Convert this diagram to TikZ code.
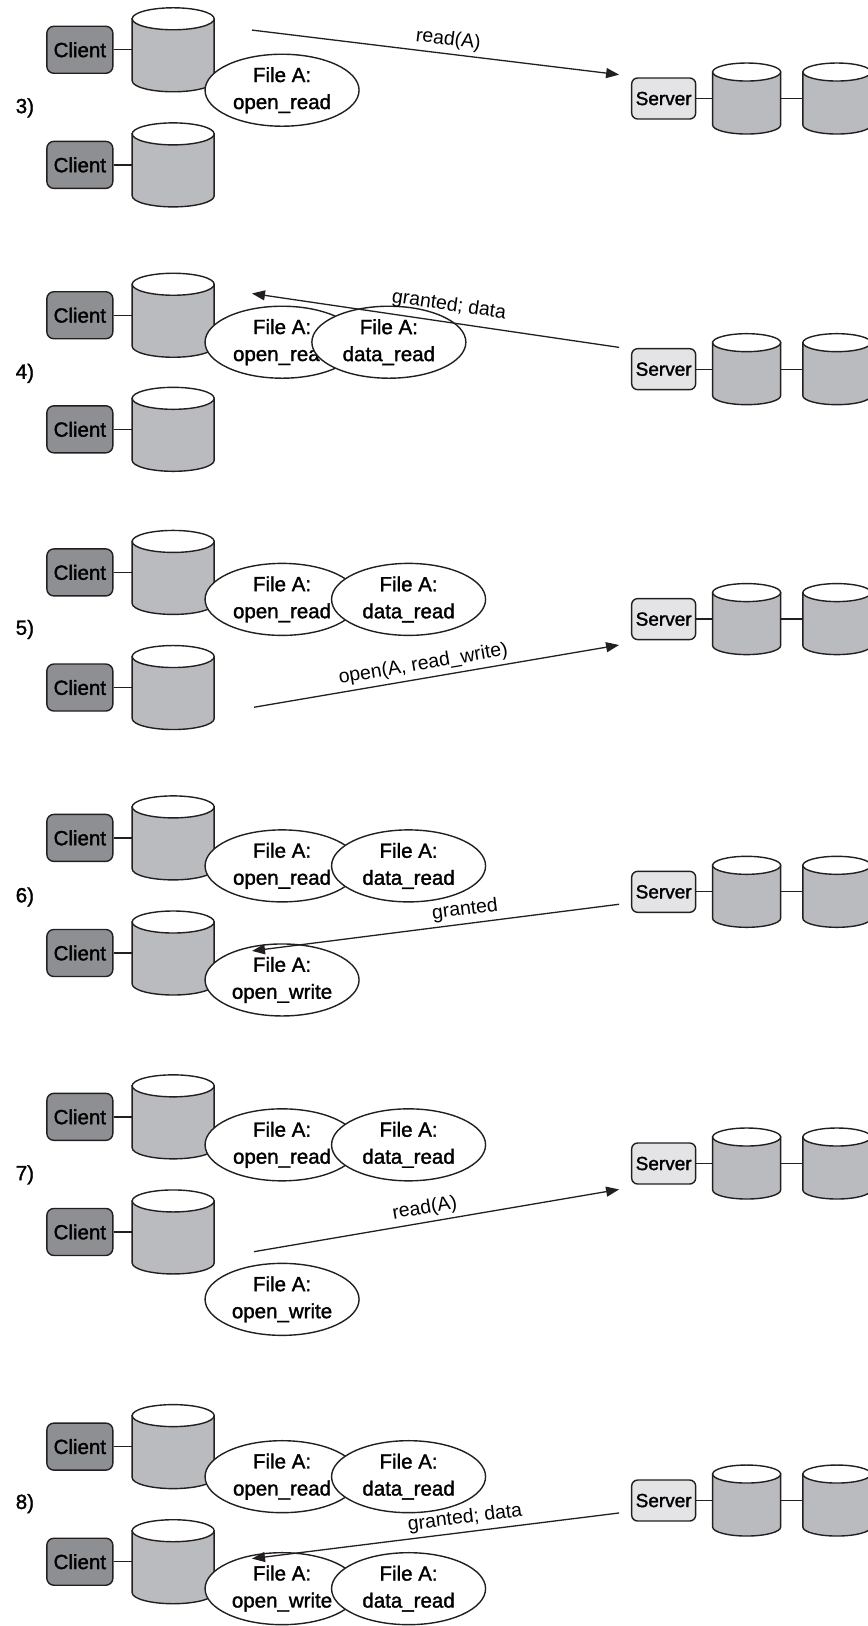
\documentclass[tikz,border=0pt]{standalone}
\usepackage{fontspec}
\setmainfont{Liberation Sans}
\newfontfamily\nodefont{Liberation Sans}[FakeBold=1.5]
\usetikzlibrary{shapes.geometric,arrows.meta}
\definecolor{clientgray}{RGB}{142,143,147}
\definecolor{cylgray}{RGB}{186,187,191}
\definecolor{servergray}{RGB}{228,228,230}
\definecolor{inkc}{RGB}{35,31,32}
\tikzset{
  base/.style={draw=inkc, line width=1.4pt},
  clientbox/.style={base, fill=clientgray, rounded corners=7pt, minimum width=66pt, minimum height=47pt, inner sep=0pt, font=\nodefont\fontsize{20.5}{24}\selectfont},
  serverbox/.style={base, fill=servergray, rounded corners=6pt, minimum width=64pt, minimum height=41pt, inner sep=0pt, font=\nodefont\fontsize{19}{22}\selectfont},
  fileell/.style={base, ellipse, fill=white, minimum width=154pt, minimum height=72pt, inner sep=0pt, align=center, font=\nodefont\fontsize{20.5}{27}\selectfont},
  steplabel/.style={font=\nodefont\fontsize{20.5}{24}\selectfont},
  msg/.style={draw=inkc, line width=1.3pt},
  msgtip/.tip={Triangle[length=13pt, width=10pt]},
  msglabel/.style={sloped, above, inner sep=4pt, font=\fontsize{19.5}{22}\selectfont},
  link/.style={draw=inkc, line width=1.3pt}
}
% drum: name, position, width, height, end y radius
\newcommand\drum[5]{%
  \node[minimum width=#3, minimum height=#4, inner sep=0pt, outer sep=0pt] (#1) at (#2) {};
  \filldraw[base, fill=cylgray] ([yshift=-#5]#1.north west) -- ([yshift=#5]#1.south west)
     arc[start angle=180, end angle=360, x radius=0.5*#3, y radius=#5]
     -- ([yshift=-#5]#1.north east) -- cycle;
  \filldraw[base, fill=white] ([yshift=-#5]#1.north) ellipse[x radius=0.5*#3, y radius=#5];
}
% panel: number, client1 y, client2 y, label y, server y
\newcommand\panel[5]{%
  \node[clientbox] (cl#1a) at (77,#2) {Client};
  \drum{cy#1a}{167,#2}{82pt}{84pt}{11pt}
  \draw[link] (cl#1a.east) -- (cl#1a.east -| cy#1a.west);
  \node[clientbox] (cl#1b) at (77,#3) {Client};
  \drum{cy#1b}{167,#3}{82pt}{84pt}{11pt}
  \draw[link] (cl#1b.east) -- (cl#1b.east -| cy#1b.west);
  \node[steplabel] (lb#1) at (24,#4) {#1)};
  \node[serverbox] (sv#1) at (640,#5) {Server};
  \drum{sd#1a}{720,#5}{68pt}{71pt}{9pt}
  \drum{sd#1b}{807,#5}{68pt}{71pt}{9pt}
  \draw[link] (sv#1.east) -- (sv#1.east -| sd#1a.west);
  \draw[link] (sd#1a.east) -- (sd#1b.west);
}
\begin{document}
\begin{tikzpicture}[x=1.0370pt, y=-1.0370pt]
\path[use as bounding box, clip] (0,0) rectangle (837,1568);

% ---------- 3)
\panel{3}{48}{159}{104}{95}
\node[fileell] (f3a) at (272,87) {File A:\\open\_read};
\coordinate (a3s) at (243,29);
\coordinate (a3e) at (597,72);
\draw[msg, -{msgtip}] (a3s) -- node[msglabel, pos=0.53] {read(A)} (a3e);

% ---------- 4)
\panel{4}{304}{414}{360}{356}
\node[fileell] (f4a) at (272,330) {File A:\\open\_read};
\node[fileell] (f4b) at (375,330) {File A:\\data\_read};
\coordinate (a4s) at (597,335);
\coordinate (a4e) at (243,283);
\draw[msg, {msgtip}-] (a4e) -- node[msglabel, pos=0.53, inner sep=7pt] {granted; data} (a4s);

% ---------- 5)
\panel{5}{552}{663}{607}{597}
\node[fileell] (f5a) at (272,578) {File A:\\open\_read};
\node[fileell] (f5b) at (394,578) {File A:\\data\_read};
\coordinate (a5s) at (245,682);
\coordinate (a5e) at (597,622);
\draw[msg, -{msgtip}] (a5s) -- node[msglabel, pos=0.47] {open(A, read\_write)} (a5e);

% ---------- 6)
\panel{6}{808}{919}{865}{860}
\node[fileell] (f6a) at (272,835) {File A:\\open\_read};
\node[fileell] (f6b) at (394,835) {File A:\\data\_read};
\node[fileell] (f6c) at (272,945) {File A:\\open\_write};
\coordinate (a6s) at (597,872);
\coordinate (a6e) at (243,917);
\draw[msg, {msgtip}-] (a6e) -- node[msglabel, pos=0.585] {granted} (a6s);

% ---------- 7)
\panel{7}{1077}{1188}{1133}{1122}
\node[fileell] (f7a) at (272,1104) {File A:\\open\_read};
\node[fileell] (f7b) at (394,1104) {File A:\\data\_read};
\node[fileell] (f7c) at (272,1253) {File A:\\open\_write};
\coordinate (a7s) at (245,1207);
\coordinate (a7e) at (597,1147);
\draw[msg, -{msgtip}] (a7s) -- node[msglabel, pos=0.474] {read(A)} (a7e);

% ---------- 8)
\panel{8}{1395}{1506}{1450}{1447}
\node[fileell] (f8a) at (272,1424) {File A:\\open\_read};
\node[fileell] (f8b) at (394,1424) {File A:\\data\_read};
\node[fileell] (f8c) at (272,1532) {File A:\\open\_write};
\node[fileell] (f8d) at (394,1532) {File A:\\data\_read};
\coordinate (a8s) at (597,1459);
\coordinate (a8e) at (243,1503);
\draw[msg, {msgtip}-] (a8e) -- node[msglabel, pos=0.585] {granted; data} (a8s);
\end{tikzpicture}
\end{document}
